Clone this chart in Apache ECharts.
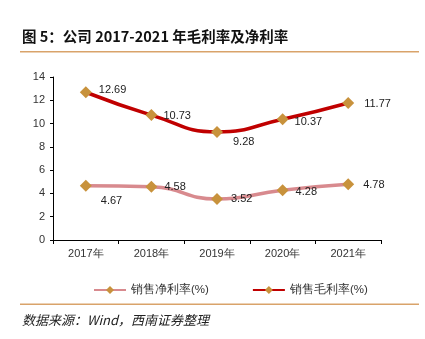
<!DOCTYPE html>
<html><head><meta charset="utf-8">
<script src="https://cdn.jsdelivr.net/npm/echarts@6/dist/echarts.min.js"></script>
<style>html,body{margin:0;padding:0;background:#fff}#c{width:425px;height:339px}</style>
</head><body><div id="c"></div>
<script>
var categories = ['2017年','2018年','2019年','2020年','2021年'];
var netMargin = [4.67, 4.58, 3.52, 4.28, 4.78];
var grossMargin = [12.69, 10.73, 9.28, 10.37, 11.77];
var yTicks = [0, 2, 4, 6, 8, 10, 12, 14];

var netLabelOffsets = [[1, 15], [-1, 0], [0, 0], [-1, 2], [1, 1]];
var grossLabelOffsets = [[-1, -2], [-2, 1], [2, 10], [-2, 3], [2, 1]];

function mk(vals, offs) {
  return vals.map(function (v, i) {
    return { value: v, label: { offset: offs[i] } };
  });
}
var font = '"Liberation Sans", Arial, sans-serif';
var chart = echarts.init(document.getElementById('c'));
chart.setOption({
  animation: false,
  grid: { left: 53, right: 44, top: 77, bottom: 99 },
  xAxis: {
    type: 'category', data: categories, boundaryGap: true,
    axisLine: { lineStyle: { color: '#000', width: 1 } },
    axisTick: { show: true, length: 4, lineStyle: { color: '#000' } },
    axisLabel: { color: '#333', fontSize: 11, fontFamily: font, margin: 8 }
  },
  yAxis: {
    type: 'value', min: yTicks[0], max: yTicks[yTicks.length - 1], interval: 2,
    splitLine: { show: false },
    axisLine: { show: true, lineStyle: { color: '#000', width: 1 } },
    axisTick: { show: true, length: 3, inside: false, lineStyle: { color: '#000' } },
    axisLabel: { color: '#333', fontSize: 11, fontFamily: font, margin: 8 }
  },
  legend: {
    top: 279, left: 88, itemGap: 43, itemWidth: 32, itemHeight: 10,
    textStyle: { color: '#333', fontSize: 11.5, fontFamily: font },
    data: ['销售净利率(%)', '销售毛利率(%)']
  },
  graphic: [
    { type: 'text', left: 22, top: 29, style: { text: '图 5：公司 2017-2021 年毛利率及净利率', font: 'bold 14.5px "Noto Sans CJK SC", sans-serif', fill: '#111' } },
    { type: 'rect', shape: { x: 20, y: 51, width: 399, height: 1.5 }, style: { fill: '#D9A36A' } },
    { type: 'rect', shape: { x: 20, y: 303.5, width: 399, height: 1.5 }, style: { fill: '#D9A36A' } },
    { type: 'text', left: 22, top: 314, style: { text: '数据来源：Wind，西南证券整理', font: 'italic 13px "Noto Sans CJK SC", sans-serif', fill: '#222' } }
  ],
  series: [
    {
      name: '销售净利率(%)', type: 'line', smooth: 0.5, data: mk(netMargin, netLabelOffsets),
      lineStyle: { color: '#D88A8E', width: 3.5 },
      itemStyle: { color: '#C8923C' }, symbol: 'diamond', symbolSize: 12,
      label: { show: true, position: 'right', distance: 8, color: '#222', fontSize: 11, fontFamily: font }
    },
    {
      name: '销售毛利率(%)', type: 'line', smooth: 0.5, data: mk(grossMargin, grossLabelOffsets),
      lineStyle: { color: '#C00000', width: 3.5 },
      itemStyle: { color: '#C8923C' }, symbol: 'diamond', symbolSize: 12,
      label: { show: true, position: 'right', distance: 8, color: '#222', fontSize: 11, fontFamily: font }
    }
  ]
});
</script></body></html>
